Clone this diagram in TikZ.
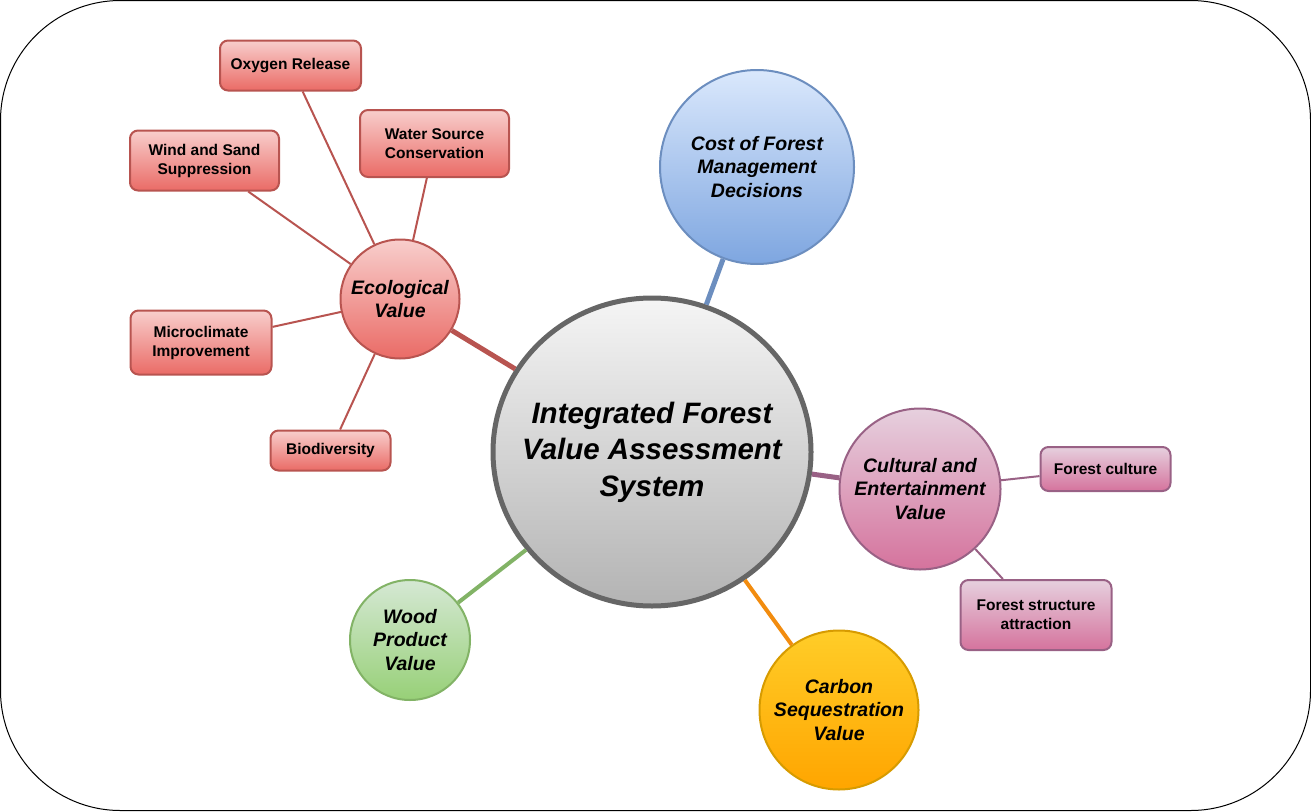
\documentclass[tikz,border=0pt]{standalone}
\usepackage{fontspec}
\setmainfont{Liberation Sans}
\usetikzlibrary{shapes.geometric}

% palette
\definecolor{redTop}{HTML}{F8CECC}
\definecolor{redBot}{HTML}{EA6B66}
\definecolor{redLine}{HTML}{B85450}
\definecolor{blueTop}{HTML}{DAE8FC}
\definecolor{blueBot}{HTML}{7EA6E0}
\definecolor{blueLine}{HTML}{6C8EBF}
\definecolor{pinkTop}{HTML}{E6D0DE}
\definecolor{pinkBot}{HTML}{D5739D}
\definecolor{pinkLine}{HTML}{996185}
\definecolor{greenTop}{HTML}{D5E8D4}
\definecolor{greenBot}{HTML}{97D077}
\definecolor{greenLine}{HTML}{82B366}
\definecolor{orangeTop}{HTML}{FFCD28}
\definecolor{orangeBot}{HTML}{FFA500}
\definecolor{orangeLine}{HTML}{D79B00}
\definecolor{orangeEdge}{HTML}{F28C0F}
\definecolor{grayTop}{HTML}{F5F5F5}
\definecolor{grayBot}{HTML}{B3B3B3}
\definecolor{grayLine}{HTML}{666666}

\tikzset{
  leaf/.style={draw=#1Line, line width=2pt, rounded corners=8pt,
    top color=#1Top, bottom color=#1Bot, inner sep=0pt, align=center,
    font=\bfseries\fontsize{15.5}{19}\selectfont},
  hub/.style={circle, draw=#1Line, line width=2pt,
    top color=#1Top, bottom color=#1Bot, inner sep=0pt, align=center,
    font=\bfseries\itshape\fontsize{19.5}{23.3}\selectfont},
  twig/.style={draw=#1Line, line width=2pt},
  trunk/.style={draw=#1, line width=5pt},
}

\begin{document}
\begin{tikzpicture}[x=1pt, y=-1pt]
\useasboundingbox (0,0) rectangle (1311,811);
\draw[black, line width=1pt, rounded corners=120pt] (0.5,0.5) rectangle (1310.5,810.5);

% central node: the disc, then its caption on top
\node[ellipse, draw=grayLine, line width=5pt, top color=grayTop, bottom color=grayBot,
      minimum width=318pt, minimum height=308pt, inner sep=0pt]
  (core) at (652,452) {};
\node[align=center, inner sep=0pt,
      font=\bfseries\itshape\fontsize{29.5}{36.5}\selectfont]
  (coreLabel) at (core.center) {Integrated Forest\\Value Assessment\\System};

% first-level circles
\node[hub=red, minimum size=119pt] (eco) at (400,299) {Ecological\\Value};
\node[hub=blue, minimum size=194pt] (cost) at (757,167) {Cost of Forest\\Management\\Decisions};
\node[hub=pink, minimum size=161pt] (cult) at (920,489) {Cultural and\\Entertainment\\Value};
\node[hub=green, minimum size=120pt] (wood) at (410,640) {Wood\\Product\\Value};
\node[hub=orange, minimum size=159pt] (carb) at (839,710) {Carbon\\Sequestration\\Value};

% ecological leaves
\node[leaf=red, minimum width=141pt, minimum height=50pt] (oxy) at (290.5,65.5) {Oxygen Release};
\node[leaf=red, minimum width=149pt, minimum height=67pt] (water) at (434.5,143.5) {Water Source\\Conservation};
\node[leaf=red, minimum width=149pt, minimum height=60pt] (wind) at (204.5,160.5) {Wind and Sand\\Suppression};
\node[leaf=red, minimum width=141pt, minimum height=64pt] (micro) at (201,342.5) {Microclimate\\Improvement};
\node[leaf=red, minimum width=120pt, minimum height=40pt] (bio) at (330.5,450.5) {Biodiversity};

% cultural leaves
\node[leaf=pink, minimum width=130pt, minimum height=44pt] (fcult) at (1105.5,469) {Forest culture};
\node[leaf=pink, minimum width=151pt, minimum height=70pt] (fstruct) at (1036,615) {Forest structure\\attraction};

% trunks to the core
\draw[trunk=redLine] (eco) -- (core);
\draw[trunk=blueLine] (cost) -- (core);
\draw[trunk=pinkLine] (cult) -- (core);
\draw[draw=greenLine, line width=4pt] (wood) -- (core);
\draw[draw=orangeEdge, line width=4pt] (carb) -- (core);

% twigs to the leaves
\draw[twig=red] (eco) -- (oxy);
\draw[twig=red] (eco) -- (water);
\draw[twig=red] (eco) -- (wind);
\draw[twig=red] (eco) -- (micro);
\draw[twig=red] (eco) -- (bio);
\draw[twig=pink] (cult) -- (fcult);
\draw[twig=pink] (cult) -- (fstruct);
\end{tikzpicture}
\end{document}
